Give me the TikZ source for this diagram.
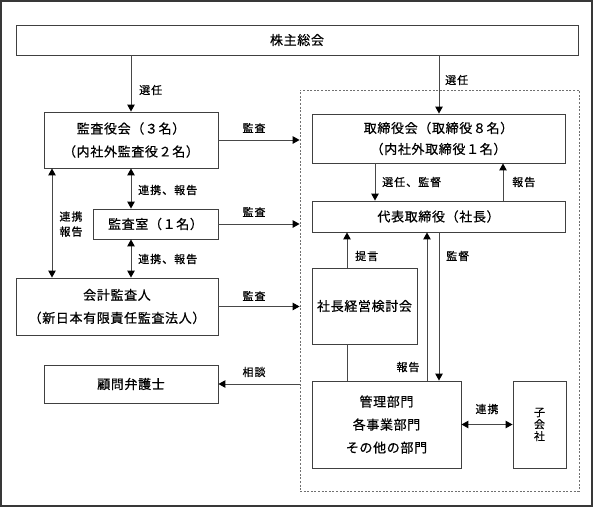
\documentclass[tikz,border=0pt]{standalone}
\usepackage{fontspec}
\newfontfamily\jpbox[LetterSpace=5,FakeBold=0.6]{Noto Sans CJK JP}
\newfontfamily\jplab[LetterSpace=9,FakeBold=0.6]{Noto Sans CJK JP}
\newfontfamily\jp[FakeBold=0.6]{Noto Sans CJK JP}
\usetikzlibrary{arrows.meta}
\definecolor{ln}{HTML}{484848}
\definecolor{bx}{HTML}{404040}
\definecolor{fr}{HTML}{383838}
\definecolor{dsh}{HTML}{707070}
\tikzset{
  box/.style={draw=bx, line width=0.9pt, inner sep=0pt, align=center,
    font=\jpbox\fontsize{13}{23}\selectfont},
  lab/.style={font=\jplab\fontsize{11}{15}\selectfont, inner sep=0pt, align=center},
  arr/.style={draw=ln, line width=1pt, -{Triangle[length=7pt,width=7.5pt,color=black]}},
  darr/.style={draw=ln, line width=1pt, {Triangle[length=7pt,width=7.5pt,color=black]}-{Triangle[length=7pt,width=7.5pt,color=black]}},
  plain/.style={draw=ln, line width=1pt},
}
\begin{document}
\begin{tikzpicture}[x=1pt,y=-1pt]
\useasboundingbox (0,0) rectangle (594,507);
\draw[fr, line width=1.3pt] (1,1) rectangle (592,506);
% group frame
\node[draw=dsh, line width=0.8pt, dash pattern=on 2pt off 1.6pt, minimum width=279pt, minimum height=401pt, inner sep=0pt] (grp) at (439.5,290.5) {};
% boxes
\node[box, minimum width=562pt, minimum height=30pt] (soukai) at (297,40) {株主総会};
\node[box, minimum width=174pt, minimum height=56pt] (kansayaku) at (131,140) {監査役会（３名）\\（内社外監査役２名）};
\node[box, minimum width=125pt, minimum height=30pt] (kansashitsu) at (155.5,224) {監査室（１名）};
\node[box, minimum width=202pt, minimum height=57pt] (kaikei) at (117,306.5) {会計監査人\\（新日本有限責任監査法人）};
\node[box, minimum width=174pt, minimum height=38pt] (komon) at (131,384) {顧問弁護士};
\node[box, minimum width=253pt, minimum height=49pt, font=\jpbox\fontsize{13}{21}\selectfont] (torishimari) at (438.5,138.5) {取締役会（取締役８名）\\（内社外取締役１名）};
\node[box, minimum width=253pt, minimum height=31pt] (daihyo) at (438.5,216.5) {代表取締役（社長）};
\node[box, minimum width=105pt, minimum height=76pt] (kentou) at (364.5,306) {社長経営検討会};
\node[box, minimum width=149pt, minimum height=87pt] (kanri) at (386.5,424.5) {管理部門\\各事業部門\\その他の部門};
\node[box, minimum width=53pt, minimum height=87pt, font=\jp\fontsize{11}{12}\selectfont] (kogaisha) at (539.5,424.5) {子\\会\\社};
% helper x positions
\coordinate (xl) at (52,0);
\coordinate (xs) at (375,0);
\coordinate (xr) at (503,0);
\coordinate (xt) at (347,0);
\coordinate (xh) at (427,0);
\coordinate (xk) at (439,0);
% connectors
\draw[arr] (soukai.south -| kansayaku.north) -- (kansayaku.north);
\draw[arr] (soukai.south -| xk) -- (torishimari.north -| xk);
\draw[arr] (kansayaku.east) -- (kansayaku.east -| grp.west);
\draw[arr] (kansashitsu.east) -- (kansashitsu.east -| grp.west);
\draw[arr] (kaikei.east) -- (kaikei.east -| grp.west);
\draw[arr] (komon.east -| grp.west) -- (komon.east);
\draw[darr] (kansayaku.south) -- (kansayaku.south |- kansashitsu.north);
\draw[darr] (kansashitsu.south -| kansayaku.south) -- (kaikei.north -| kansayaku.south);
\draw[darr] (kansayaku.south -| xl) -- (kaikei.north -| xl);
\draw[arr] (torishimari.south -| xs) -- (daihyo.north -| xs);
\draw[arr] (daihyo.north -| xr) -- (torishimari.south -| xr);
\draw[arr] (kentou.north -| xt) -- (daihyo.south -| xt);
\draw[plain] (kentou.south -| xt) -- (kanri.north -| xt);
\draw[arr] (kanri.north -| xh) -- (daihyo.south -| xh);
\draw[arr] (daihyo.south -| xk) -- (kanri.north -| xk);
\draw[darr] (kanri.east) -- (kogaisha.west);
% labels
\node[lab, anchor=west] (l1) at (139,90) {選任};
\node[lab, anchor=west] (l2) at (445,80) {選任};
\node[lab] (l3) at (254,128) {監査};
\node[lab] (l4) at (254,212) {監査};
\node[lab] (l5) at (254,296) {監査};
\node[lab] (l6) at (254,372) {相談};
\node[lab, anchor=west] (l7) at (138,190) {連携、報告};
\node[lab, anchor=west] (l8) at (138,259) {連携、報告};
\node[lab] (l9) at (71,224) {連携\\報告};
\node[lab, anchor=west] (l10) at (382,182) {選任、監督};
\node[lab, anchor=west] (l11) at (512,182) {報告};
\node[lab, anchor=west] (l12) at (355,256) {提言};
\node[lab] (l13) at (408,367) {報告};
\node[lab, anchor=west] (l14) at (446,256) {監督};
\node[lab] (l15) at (487,409) {連携};
\end{tikzpicture}
\end{document}
